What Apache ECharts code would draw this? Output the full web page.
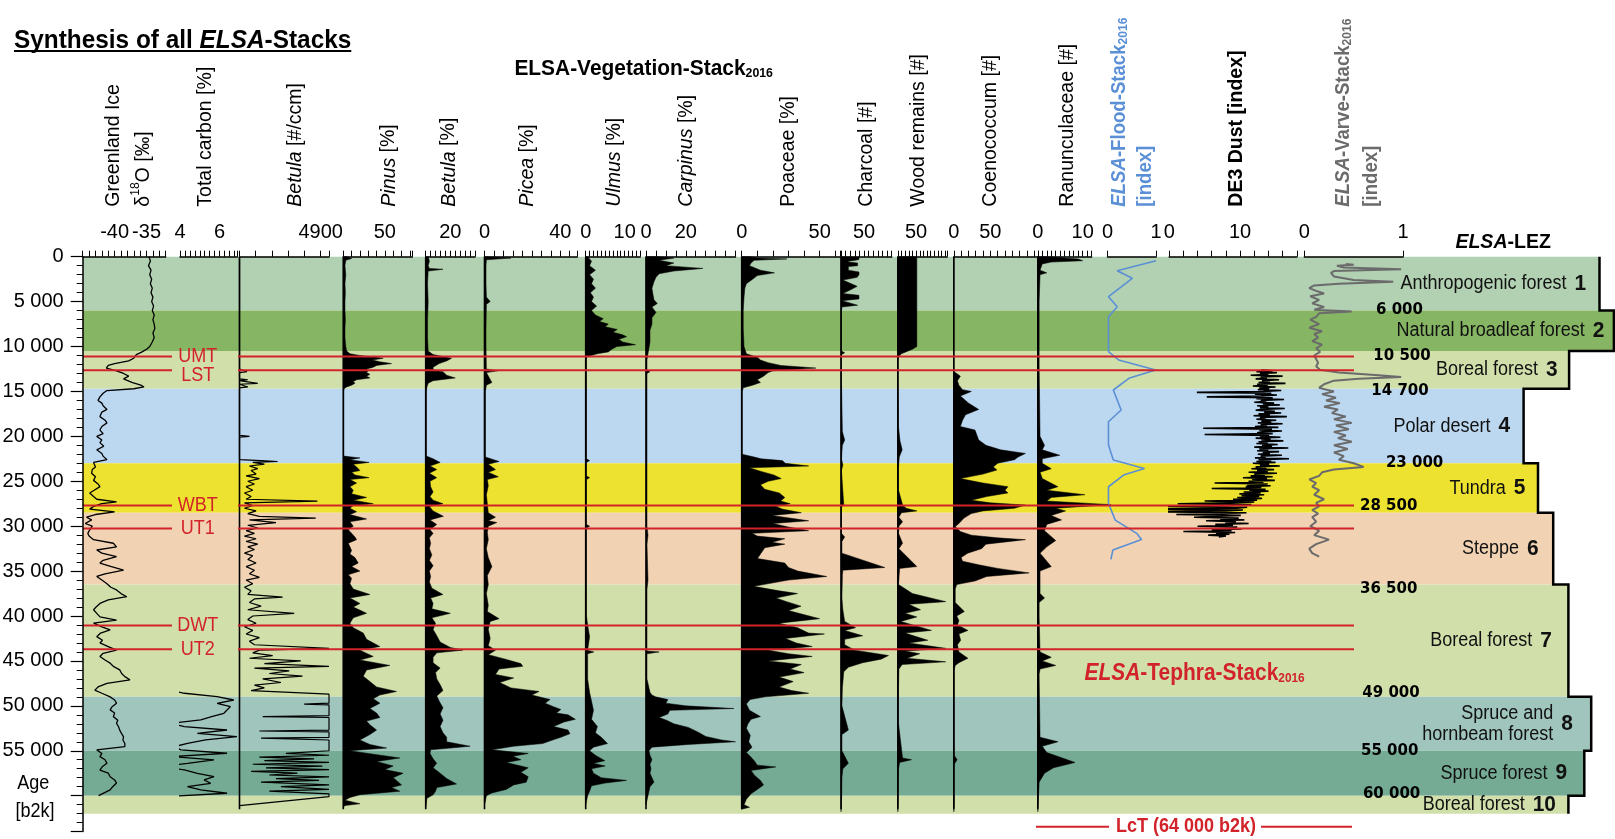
<!DOCTYPE html>
<html><head><meta charset="utf-8">
<script src="https://cdn.jsdelivr.net/npm/echarts@6/dist/echarts.min.js"></script>
<style>html,body{margin:0;padding:0;background:#fff}#c{width:1615px;height:839px}</style>
</head><body><div id="c"></div>
<script>
// ================= DATA (age [yr b2k], value) =================
const d18O = [[0,-34.6],[500,-34.4],[1000,-34.7],[1500,-34.3],[2000,-34.5],[2500,-34.2],[3000,-34.4],[3500,-34.1],[4000,-34.3],[4500,-34.0],[5000,-34.2],[5500,-33.9],[6000,-34.1],[6500,-33.8],[7000,-34.0],[7500,-33.8],[8000,-33.7],[8500,-34.0],[9000,-33.8],[9500,-34.1],[10000,-34.5],[10300,-35.0],[10600,-35.7],[10900,-36.6],[11300,-37.0],[11600,-37.8],[11900,-40.0],[12100,-41.0],[12400,-41.3],[12700,-39.7],[13000,-38.6],[13300,-37.8],[13600,-38.6],[14000,-37.3],[14300,-35.9],[14500,-35.4],[14700,-37.0],[14900,-41.2],[15200,-41.8],[15600,-42.3],[16000,-42.6],[16300,-42.0],[16600,-41.8],[17000,-41.2],[17300,-42.0],[17800,-42.3],[18200,-41.5],[18500,-41.2],[18900,-42.0],[19300,-42.3],[19700,-41.8],[20000,-42.8],[20400,-42.0],[20700,-42.3],[21100,-41.7],[21500,-42.8],[21900,-42.0],[22200,-41.8],[22600,-41.2],[22900,-43.3],[23400,-43.0],[23700,-43.5],[24100,-43.6],[24500,-43.0],[24900,-43.3],[25300,-42.6],[25600,-42.3],[26000,-43.2],[26300,-43.9],[26700,-43.3],[27000,-42.8],[27300,-39.7],[27500,-42.0],[27800,-43.3],[28100,-43.9],[28400,-40.0],[28700,-43.0],[29000,-44.4],[29300,-43.6],[29700,-44.6],[30000,-43.5],[30400,-43.9],[30800,-44.2],[31100,-44.0],[31500,-43.3],[31900,-40.2],[32300,-39.7],[32650,-42.8],[33000,-42.0],[33400,-39.7],[33800,-41.8],[34100,-42.3],[34500,-40.5],[34900,-38.6],[35300,-41.5],[35600,-42.8],[36000,-42.0],[36400,-41.2],[36800,-40.6],[37100,-39.7],[37500,-39.0],[37850,-38.1],[38200,-41.0],[38600,-42.3],[39000,-42.9],[39300,-43.3],[39700,-42.8],[40100,-42.3],[40450,-39.7],[40800,-43.3],[41200,-42.0],[41550,-40.7],[41900,-42.2],[42300,-42.8],[42700,-41.9],[43000,-42.3],[43400,-41.0],[43800,-39.7],[44150,-41.8],[44500,-42.3],[44900,-41.5],[45250,-40.7],[45600,-40.2],[46000,-39.2],[46400,-38.9],[46750,-38.4],[47100,-37.6],[47500,-41.2],[47900,-42.6],[48250,-43.1],[48600,-42.0],[49000,-40.7],[49350,-40.0],[49700,-39.7],[50100,-40.4],[50450,-40.7],[50800,-40.0],[51200,-40.2],[51600,-39.5],[51950,-39.7],[52300,-39.4],[52700,-39.2],[53100,-38.9],[53450,-38.6],[53800,-38.7],[54200,-38.4],[54550,-38.4],[54900,-42.8],[55300,-42.0],[55650,-42.3],[56000,-41.5],[56400,-41.2],[56750,-41.9],[57150,-42.3],[57500,-41.0],[57900,-40.7],[58250,-40.0],[58600,-39.7],[59000,-40.3],[59350,-40.7],[59750,-41.8],[60000,-42.5]];

const totalCarbonA = [[12800,2.05],[12980,2.22],[13350,2.38],[13720,2.22],[14050,2.4],[14350,2.63],[14840,2.22],[15200,2.05],[15580,2.38],[16000,2.3],[16320,2.22],[16690,2.05],[17060,2.38],[17500,2.3],[17800,2.38],[18300,2.28],[18920,2.3],[19470,2.38]];
const totalCarbonB = [[22810,2.38],[23300,2.3],[23740,2.22],[24100,2.3],[24480,2.22],[25000,2.28],[25600,2.22],[26200,2.3],[26710,2.22],[27260,2.63],[27450,2.22],[27800,2.3],[28190,2.22],[28560,2.9],[28930,2.22],[29300,2.3],[29680,2.22],[30100,2.3],[30420,2.38],[30800,2.3],[31160,2.22],[31540,2.38],[32100,2.3],[32650,2.22],[33200,2.3],[33760,2.38],[34300,2.3],[34880,2.38],[35400,2.45],[35990,2.55],[36550,2.6],[37100,2.72],[37850,2.72],[38220,2.38],[38800,2.45],[39330,2.38],[39700,2.5],[40070,2.55],[40810,2.38],[41550,2.55],[42300,2.38],[43040,2.22],[43780,2.55],[44520,2.55],[45270,2.72],[45700,2.9],[46010,3.22],[46560,3.38],[46750,3.72],[47120,3.88],[47490,3.05],[48230,3.38],[48600,4.22],[48980,5.88],[49350,6.72],[49720,5.88],[50090,6.55],[50460,6.38],[50830,6.22],[51200,5.6],[51570,5.05],[51940,3.55],[52320,4.22],[52690,6.38],[53060,4.88],[53430,6.88],[53800,5.3],[54170,4.38],[54540,3.72],[54910,4.05],[55280,6.38],[55650,3.55],[56020,5.72],[56400,4.38],[56770,3.05],[57140,4.22],[57510,4.88],[57880,5.72],[58250,5.22],[58620,5.55],[58990,4.38],[59360,5.05],[59730,6.38],[60100,3.22],[60480,2.9],[60850,3.05],[61220,2.22]];

const betulaConc = [[0,0],[12500,0],[12800,450],[12900,0],[13600,0],[13700,500],[13800,0],[14100,1100],[14200,0],[14500,500],[14600,0],[19900,0],[20000,600],[20100,0],[22600,0],[22700,1300],[22800,2300],[22900,800],[23100,1500],[23300,600],[23600,1100],[23800,700],[24200,1000],[24400,400],[24700,1200],[25000,500],[25300,900],[25600,400],[26000,800],[26300,300],[26700,700],[27000,400],[27200,4700],[27400,300],[27700,800],[28000,300],[28300,1000],[28600,500],[28900,1200],[29100,4600],[29300,600],[29600,2200],[29900,500],[30200,1100],[30500,400],[30800,900],[31100,300],[31400,1000],[31700,400],[32000,1100],[32300,500],[32600,900],[33000,300],[33300,800],[33700,500],[34100,1000],[34500,400],[34900,900],[35300,600],[35700,1200],[36000,400],[36400,800],[36800,300],[37200,700],[37600,500],[37900,2600],[38100,900],[38500,600],[38900,1300],[39300,500],[39700,3300],[40000,800],[40400,500],[40800,1000],[41200,300],[41600,800],[42000,400],[42400,1200],[42800,600],[43200,900],[43600,5400],[43800,1200],[44100,800],[44400,2000],[44700,600],[45000,3700],[45300,1500],[45600,5400],[45800,900],[46100,3000],[46400,1800],[46700,3800],[47000,1400],[47400,2500],[47700,900],[48000,1500],[48300,700],[48700,5400],[49700,5400],[49800,3900],[49900,5400],[51100,5400],[51200,1400],[51300,5400],[52700,5400],[52800,1200],[52900,5400],[53500,5400],[53600,1300],[53800,5400],[55000,5400],[55300,2800],[55500,5400],[55700,1200],[55900,4500],[56100,1500],[56300,5400],[56500,800],[56700,5000],[56900,1600],[57100,5400],[57300,700],[57500,3500],[57700,1800],[57900,5400],[58100,2200],[58300,4800],[58500,1300],[58800,5400],[59000,2500],[59300,5400],[59500,1800],[59800,5400],[60100,5400],[61100,0]];

const pinus = [[0,4],[200,10],[400,3],[1000,2],[2000,3],[3000,2],[4000,2.5],[5000,2],[6000,2],[7000,2.5],[8000,2],[9000,2],[10000,3],[10500,4],[10800,8],[11000,20],[11200,40],[11300,48],[11500,35],[11700,44],[11900,58],[12100,40],[12300,36],[12500,28],[12700,30],[12900,28],[13100,32],[13300,28],[13500,32],[13700,16],[13900,12],[14100,14],[14300,10],[14500,4],[14700,1],[15000,0.5],[22200,0.5],[22400,20],[22600,8],[22900,31],[23100,12],[23400,16],[23800,20],[24000,10],[24300,14],[24600,31],[24800,8],[25200,16],[25600,8],[26000,12],[26400,10],[26800,28],[27100,12],[27500,36],[27700,12],[28000,8],[28400,16],[28700,8],[29200,28],[29500,8],[30000,12],[30400,6],[30800,10],[31200,14],[31500,16],[31900,6],[32300,8],[32700,10],[33100,8],[33500,14],[34100,18],[34500,10],[35000,20],[35400,6],[35800,10],[36400,8],[37000,12],[37600,32],[38000,8],[38600,20],[39000,12],[39700,28],[40200,12],[40800,8],[41300,12],[41900,24],[42600,28],[43400,44],[43800,20],[44500,36],[44900,20],[45500,56],[46000,28],[46700,24],[47300,32],[47900,40],[48400,64],[48800,44],[49200,36],[49700,44],[50300,32],[50800,40],[51300,44],[51700,28],[52100,32],[52700,40],[53200,32],[53800,20],[54300,32],[54700,52],[55000,8],[55300,30],[55800,68],[56200,40],[56700,60],[57100,50],[57500,72],[58000,60],[58300,64],[58800,70],[59100,58],[59500,68],[59900,20],[60200,8],[60500,2],[60900,20],[61100,2],[61300,0]];

const betulaPct = [[0,2],[500,3],[1000,2],[1300,3],[1400,14],[1600,2],[3000,1.5],[5000,2],[7000,1.5],[9000,1.5],[10500,2],[10900,6],[11300,21],[11600,17],[11900,11],[12300,6],[12600,6],[12800,14],[13200,17],[13500,24],[13800,6],[14100,2],[14500,1],[15000,0.5],[22200,0.5],[22500,6],[22900,11.7],[23300,3.5],[23700,8.9],[24100,3],[24600,8.9],[25000,3.5],[25600,4],[26200,6],[26700,3.5],[27100,6],[27500,14],[27800,3],[28300,6],[28900,14.4],[29300,3.5],[29800,8.9],[30400,3.5],[30800,6],[31300,3],[31900,4],[32500,3],[33200,5],[33800,3],[34400,6],[35000,3],[35600,4],[36200,3],[36900,5],[37600,14],[38000,4],[38600,6],[39200,5],[39700,20],[40200,5],[40800,8],[41500,6],[42200,9],[42900,11.7],[43500,20],[43800,30],[44100,9],[44600,6],[45200,6],[45800,11.7],[46300,8],[47000,9],[47700,12],[48300,14],[48900,9],[49500,11],[50200,14],[50900,11.7],[51600,14],[52300,11.7],[53000,14],[53500,17],[54000,17],[54500,36],[54900,4],[55300,3.5],[55900,6],[56400,8.9],[56900,6],[57500,11.7],[58100,17],[58700,25],[59100,9],[59500,8],[59900,6],[60300,1],[61300,0]];

const picea = [[0,1],[150,14],[350,1],[1000,0.8],[3000,0.8],[4500,1],[5000,3],[5300,1],[8000,0.8],[10000,0.8],[12500,1],[12700,7],[12900,1],[14000,3.9],[14300,1],[15000,0.5],[22300,0.5],[22800,7.7],[23100,2],[23700,5.8],[24000,2],[24500,7.3],[24800,1.5],[25500,2],[26500,1],[27500,1.5],[28500,2],[29000,5.8],[29400,2],[29600,6.5],[30000,2],[30700,1.5],[31500,2],[32500,1],[33500,2],[34500,3.9],[35500,1.5],[36500,2],[37500,1],[38800,2],[39500,1.5],[40300,7.7],[40600,3],[41500,2],[42500,3],[43300,2],[43800,5.8],[44300,2],[44800,11],[45300,19.2],[45600,20.2],[45900,7.7],[46500,5.8],[46900,15.4],[47400,8],[48000,14],[48400,28.8],[48800,25],[49300,34.6],[49700,32],[50100,36.5],[50400,40.3],[50800,38],[51000,44.1],[51500,48],[51800,42],[52300,36.5],[52700,44.1],[53100,45.1],[53500,40.3],[53800,36],[54200,30.7],[54500,15.4],[54900,3.9],[55300,23.1],[55600,15],[56000,19.2],[56300,11.5],[56900,23.1],[57400,19.2],[57900,23.1],[58500,22],[58800,15.4],[59300,11.5],[59700,3.9],[60000,1],[60600,0.5],[61000,0]];

const ulmus = [[0,0.5],[500,1.5],[1000,1],[1500,2.5],[2000,1],[2500,2],[3000,1.5],[3500,2.5],[4000,1.2],[4500,2],[5000,1.5],[5500,2.8],[6000,1.5],[6500,2.5],[6900,4.5],[7200,3.5],[7500,5.8],[7800,5],[8100,8.1],[8400,7],[8700,9.5],[8900,10.5],[9200,8.5],[9500,9.5],[9800,12.8],[10000,8],[10300,6.7],[10600,5.8],[10800,3],[11100,0.5],[11300,0.2],[22500,0.2],[22700,1],[22900,0.2],[24400,0.2],[24600,1],[24800,0.2],[29800,0.2],[30000,1],[30200,0.2],[40000,0.2],[41000,0.5],[42300,1],[43800,0.5],[44000,2.1],[44200,0.5],[47000,0.5],[48500,1],[49500,1.5],[50500,2],[51500,1.5],[52300,3],[53000,2.5],[53500,4],[54200,5.6],[54600,2],[55000,1],[55500,2.5],[56100,4.9],[56400,2],[56700,5],[57000,1.5],[57500,2],[58000,4],[58300,10.5],[58600,5],[58900,1.5],[59500,1],[60000,0.5],[61000,0]];

const carpinus = [[0,6],[150,14],[400,6.6],[700,14],[1000,10],[1300,28.6],[1600,14],[1900,6.6],[2300,5],[2800,4],[3500,3],[4200,3.5],[4800,4],[5200,5.7],[5600,3],[6200,5],[6800,3],[7500,3],[8200,2],[9500,2],[10800,1],[11500,0.5],[12600,0.5],[12800,2],[13000,0.5],[30000,0.5],[31000,1],[32000,0.5],[36000,1],[37000,0.5],[43900,0.5],[44000,6.6],[44200,0.5],[47000,0.5],[48500,2],[48800,3],[49000,4.8],[49300,11],[49700,10],[50000,20],[50300,44.2],[50500,12],[50900,11],[51300,6.6],[51600,10.3],[52000,14],[52400,21.3],[52900,26],[53400,30],[53800,38],[54000,45],[54300,21.3],[54600,3],[55000,1.5],[55500,2],[56000,3],[56500,2],[57000,2.5],[57500,2],[58500,4],[59000,2],[60000,1],[61000,0]];

const poaceae = [[0,5],[150,10],[250,29],[400,8],[700,6],[1000,5],[1500,12],[1800,21],[2100,10],[2500,7],[3000,3],[3500,2],[4500,1.5],[6000,1],[8000,1],[10000,1.5],[10800,3],[11200,10],[11500,12],[11800,17],[12100,25],[12400,47.5],[12700,20],[12900,17],[13300,14],[13700,10],[14000,12],[14300,7],[14600,1],[15000,0.3],[22000,0.3],[22300,8],[22500,12.4],[22700,26],[23000,28],[23300,42.9],[23500,5],[23900,12.4],[24300,20.6],[24700,25.3],[25000,17],[25400,12],[25900,14.8],[26300,24.1],[26800,27.6],[27200,25],[27500,31.1],[27800,22],[28100,26],[28500,38.2],[28800,19.4],[29200,35],[29400,42.9],[29700,20],[30100,30],[30500,42.9],[30800,6.6],[31100,10],[31400,27.6],[31800,19.4],[32000,27.6],[32400,14.8],[33000,12.4],[33600,10.1],[34100,27.6],[34600,30],[35000,36],[35600,54.5],[36000,30],[36700,7.7],[37200,24],[37500,35.8],[38000,22],[38400,28.8],[38900,38],[39400,30],[40300,49.9],[40800,24],[41300,35.8],[41900,42.9],[42000,53],[42500,28],[43000,35],[43400,45.2],[43800,17],[44200,30],[44500,45.2],[45000,17],[45400,38.2],[45900,31],[46300,40],[46800,24],[47300,33],[47900,24],[48300,32],[48600,42.9],[49000,15],[49300,5.4],[49800,3],[50500,5],[51200,12],[51500,6],[52000,4],[52500,3],[53300,5.5],[54000,4.5],[54600,6.6],[55200,3],[55600,5.4],[56100,8],[56600,10],[56800,21.8],[57200,6],[57700,8],[58300,12],[58800,14],[59300,10],[59800,6],[60400,3],[61000,1.5],[61300,5],[61500,0]];

const charcoal = [[0,2],[50,39],[300,39],[400,31],[500,16],[600,16],[700,36],[1000,36],[1100,16],[1500,16],[1700,39],[2000,39],[2300,35],[2600,4],[3300,35],[3700,20],[4100,4],[4300,39],[4700,39],[4900,2],[5400,36],[5600,2],[6000,1],[10500,1],[10700,8],[10900,1],[14000,1],[19500,3],[20400,8],[21000,3],[22500,1],[23200,4],[23800,1],[27600,6],[27900,1],[30800,1],[31200,8],[31700,2],[33000,2],[34600,95],[34900,4],[35500,3],[38000,2],[39300,4],[40600,8],[41300,31.5],[41600,8],[42200,47],[42600,8],[43200,8],[43800,30],[44400,103],[44800,87],[45200,47],[45700,16],[46200,6],[48000,3],[50000,2],[52700,16],[53200,2],[55000,2],[56400,16],[57000,4],[58000,2],[61000,1],[61800,0]];

const woodRemains = [[0,52],[10000,52],[10300,40],[10800,10],[11100,2],[11500,1],[14000,1],[19000,2],[20500,6],[21500,12],[22300,4],[23500,2],[26000,2],[27600,13],[28000,23],[28300,52],[28500,10],[29000,3],[29500,13],[30000,3],[30800,2],[31900,13],[32500,3],[34500,52],[34700,5],[36500,2],[37500,40],[38400,131],[38700,30],[39300,62],[39700,20],[40100,52],[40600,8],[41600,92],[41900,20],[42700,82],[43000,30],[43600,131],[43900,20],[44200,60],[44700,25],[45100,131],[45400,12],[45900,3],[48000,2],[52000,2],[55800,13],[56000,37.5],[56300,5],[57000,2],[61000,1],[61800,0]];

const coenococcum = [[0,0],[12800,0],[13000,4],[13300,9],[13800,5],[14300,7],[14800,12],[15000,24],[15500,9],[16300,20],[17000,34],[17600,16],[18200,12],[18900,9],[19300,29],[20400,34],[21000,44],[21500,64],[21900,98],[22300,88],[22600,83],[23000,60],[23400,54],[23750,59],[24200,40],[24700,9],[25200,40],[25600,74],[26000,70],[26300,74],[26700,45],[27100,24],[27400,50],[27650,98],[28000,83],[28300,40],[28600,24],[29100,14],[29700,7],[30050,2],[30600,9],[31000,24],[31300,60],[31500,98],[32000,44],[32500,38],[33000,19],[33500,10],[33900,12],[34300,34],[34700,60],[35200,103],[35600,45],[36100,29],[36500,4],[37000,2],[38500,2],[39500,14.4],[40000,4],[40500,7],[41000,5],[41600,19.3],[42000,7],[42700,9.4],[43200,5],[44000,7],[44700,19.3],[45200,7],[45500,2],[46000,0.5],[55500,0.5],[56000,4.5],[56500,0.5],[61000,0.5],[61800,0]];

const ranunculaceae = [[0,2],[250,9],[450,10],[600,3],[800,1],[1500,0.5],[1800,2],[2000,0.5],[5000,0.3],[12000,0.3],[20000,0.5],[21000,1.5],[21500,1],[22100,4.9],[22500,1],[23000,1],[23600,3],[24000,0.5],[24700,1],[25600,4.5],[26000,2],[26500,10.5],[26800,3],[27200,2],[27600,16.3],[28000,4],[28300,6.2],[28800,3],[29300,5.3],[29800,2],[30500,1.5],[31600,4],[32300,2],[33000,0.5],[34500,3],[35000,0.5],[37500,0.5],[38000,1.5],[38500,0.3],[40000,0.3],[44000,0.5],[44600,3],[45000,1],[45500,4],[45900,0.5],[46500,0.3],[53500,0.5],[54000,4.5],[54500,1],[55200,2],[56300,8.3],[56900,3.5],[57500,1.5],[58500,0.3],[61800,0]];

const floodStack = [[440,1.0],[1560,0.2],[2400,0.51],[4450,0.02],[5570,0.2],[6680,0.02],[10580,0.02],[11500,0.23],[12620,0.99],[13540,0.44],[14840,0.12],[17070,0.28],[18370,0.02],[20970,0.02],[22640,0.12],[23570,0.76],[24310,0.33],[25610,0.02],[27460,0.02],[29320,0.16],[30800,0.6],[31470,0.7],[32660,0.11],[33700,0.07]];

const dustDE3 = [[12600,13.0],[12700,14.6],[12800,12.3],[12900,15.2],[13000,12.8],[13100,14.0],[13200,11.5],[13300,16.0],[13400,12.9],[13500,13.8],[13600,12.2],[13700,15.5],[13800,13.1],[13900,14.2],[14000,12.6],[14100,16.4],[14200,12.4],[14300,13.9],[14400,11.8],[14500,15.0],[14600,12.7],[14700,14.1],
[14800,12.5],[14900,15.8],[15000,13.3],[15100,3.9],[15200,14.4],[15300,12.1],[15400,15.2],[15500,13.0],[15600,5.3],[15700,14.6],[15800,12.3],[15900,16.2],[16000,12.9],[16100,13.7],[16200,12.0],[16300,14.8],[16400,13.2],[16500,15.6],[16600,12.4],[16700,14.0],[16800,12.8],[16900,16.3],[17000,13.0],
[17100,12.2],[17200,14.9],[17300,13.4],[17400,15.8],[17500,12.6],[17600,14.2],[17700,11.9],[17800,16.6],[17900,12.8],[18000,13.6],[18100,12.3],[18200,15.1],[18300,13.0],[18400,14.4],[18500,12.5],[18600,16.0],[18700,12.9],[18800,13.8],[18900,12.1],[19000,15.4],[19100,4.8],[19200,14.5],[19300,12.7],[19400,15.9],[19500,13.1],
[19600,12.4],[19700,14.6],[19800,5.0],[19900,14.1],[20000,12.8],[20100,15.7],[20200,12.2],[20300,14.3],[20400,13.0],[20500,16.1],[20600,12.6],[20700,13.9],[20800,12.3],[20900,15.3],[21000,13.1],[21100,14.5],[21200,12.0],[21300,16.8],[21400,12.7],[21500,14.0],[21600,12.4],[21700,15.5],[21800,13.2],[21900,14.2],[22000,12.5],
[22100,15.9],[22200,12.9],[22300,13.6],[22400,12.1],[22500,16.9],[22600,12.6],[22700,14.4],[22800,12.3],[22900,15.0],[23000,11.8],[23100,14.1],[23200,12.8],[23300,15.6],[23400,12.2],[23500,13.7],[23600,11.6],[23700,14.8],[23800,12.4],[23900,13.9],[24000,11.2],[24100,15.2],[24200,12.0],[24300,13.5],[24400,11.5],[24500,14.6],
[24600,10.4],[24700,13.8],[24800,11.7],[24900,14.9],[25000,11.2],[25100,13.3],[25200,6.4],[25300,13.9],[25400,11.0],[25500,14.3],[25600,10.8],[25700,13.0],[25800,6.0],[25900,13.6],[26000,11.3],[26100,14.0],[26200,10.5],[26300,12.9],[26400,9.9],[26500,13.4],
[26600,10.2],[26700,12.7],[26800,9.6],[26900,13.1],[27000,9.0],[27100,12.4],[27200,5.0],[27300,12.0],[27400,8.8],[27500,1.2],[27600,11.6],[27700,8.2],[27800,-1.5],[27900,11.0],[28000,9.5],[28100,-3.8],[28200,10.4],[28300,8.0],[28400,-2.2],[28500,10.9],
[28600,7.5],[28700,1.0],[28800,10.1],[28900,6.8],[29000,3.5],[29100,9.8],[29200,7.2],[29300,10.6],[29400,5.2],[29500,9.4],[29600,7.9],[29700,11.2],[29800,6.5],[29900,9.0],[30000,4.0],[30100,9.6],[30200,7.4],[30300,10.2],[30400,6.0],[30500,8.8],[30600,2.0],[30700,9.3],[30800,6.6],[30900,8.5],[31000,5.5],[31100,8.0],[31200,7.0]];

const varveStack = [[800,0.42],[900,0.5],[1000,0.33],[1200,0.4],[1400,0.98],[1600,0.3],[1800,0.27],[2200,0.3],[2600,0.5],[2800,0.9],[3000,0.35],[3200,0.1],[3500,0.05],[3800,0.12],[4100,0.2],[4400,0.06],[4800,0.15],[5200,0.08],[5600,0.2],[5900,0.1],[6100,0.48],[6300,0.15],[6700,0.12],[7000,0.06],[7500,0.15],[7900,0.05],[8300,0.18],[8600,0.1],[9000,0.14],[9400,0.08],[9800,0.18],[10200,0.12],[10600,0.16],[11000,0.1],[11400,0.12],[11800,0.14],[12200,0.12],[12600,0.16],[12900,0.35],[13200,0.75],[13400,0.98],[13600,0.55],[13800,0.3],[14200,0.2],[14600,0.15],[15000,0.3],[15300,0.18],[15700,0.32],[16000,0.22],[16300,0.36],[16700,0.2],[17000,0.34],[17400,0.28],[17800,0.42],[18100,0.3],[18500,0.48],[18800,0.32],[19200,0.45],[19500,0.3],[19900,0.42],[20200,0.34],[20600,0.48],[21000,0.3],[21400,0.44],[21800,0.3],[22200,0.4],[22600,0.35],[23000,0.5],[23400,0.6],[23700,0.3],[24000,0.18],[24400,0.15],[24800,0.05],[25200,0.12],[25600,0.08],[26000,0.15],[26500,0.1],[27000,0.2],[27400,0.12],[27800,0.15],[28200,0.08],[28600,0.14],[29000,0.08],[29500,0.12],[30000,0.06],[30500,0.15],[31000,0.1],[31500,0.25],[32000,0.12],[32500,0.05],[33000,0.08],[33400,0.15]];

// Tick labels shown on each panel's top axis
const ticksD18O = [-40, -35];
const ticksTC = [4, 6];
const ticksBetulaConc = [4900];
const ticksPinus = [50];
const ticksBetulaPct = [20];
const ticksPicea = [0, 40];
const ticksUlmus = [0, 10];
const ticksCarpinus = [0, 20];
const ticksPoaceae = [0, 50];
const ticksCharcoal = [50];
const ticksWood = [50];
const ticksCoeno = [0, 50];
const ticksRanunc = [0, 10];
const ticksFlood = [0, 1];
const ticksDust = [0, 10];
const ticksVarve = [0, 1];

// Landscape evolution zones (ELSA-LEZ)
const zoneBounds = [0, 6000, 10500, 14700, 23000, 28500, 36500, 49000, 55000, 60000, 62000];
const zoneNames = ['Anthropogenic forest', 'Natural broadleaf forest', 'Boreal forest', 'Polar desert', 'Tundra', 'Steppe', 'Boreal forest', 'Spruce and\nhornbeam forest', 'Spruce forest', 'Boreal forest'];
const zoneNumbers = ['1', '2', '3', '4', '5', '6', '7', '8', '9', '10'];

// Tephra layers
const tephraNames = ['UMT', 'LST', 'WBT', 'UT1', 'DWT', 'UT2'];
const tephraAges = [11100, 12650, 27700, 30250, 41050, 43700];

const RECORD_END = 61500;
const AGE_MAX = 64000;

// ================= LAYOUT / STYLE =================
const FN = "'Liberation Sans Narrow','Arial Narrow','Liberation Sans',Arial,sans-serif";
const RED = '#d2232a', BLUE = '#5b8fd6', GRAY = '#6b6b6b';
const TOP = 256.7, H = 574.9;

const panels = [
  {left: 82.7, width: 83, min: -45, max: -32, interval: 1, labels: ticksD18O},
  {left: 180, width: 57.3, min: 4, max: 6.9, interval: 0.25, labels: ticksTC},
  {left: 239.5, width: 89.5, min: 0, max: 5400, interval: 980, labels: ticksBetulaConc},
  {left: 343.3, width: 69, min: 0, max: 83, interval: 10, labels: ticksPinus},
  {left: 425.7, width: 49.3, min: 0, max: 40, interval: 4, labels: ticksBetulaPct},
  {left: 484.5, width: 92.8, min: 0, max: 49, interval: 5, labels: ticksPicea},
  {left: 585.7, width: 54.5, min: 0, max: 14, interval: 1, labels: ticksUlmus},
  {left: 646, width: 89.5, min: 0, max: 45, interval: 5, labels: ticksCarpinus},
  {left: 741.7, width: 98.3, min: 0, max: 63, interval: 10, labels: ticksPoaceae},
  {left: 841, width: 50.7, min: 0, max: 110, interval: 10, labels: ticksCharcoal},
  {left: 897.8, width: 49.4, min: 0, max: 135, interval: 10, labels: ticksWood},
  {left: 953.8, width: 84.1, min: 0, max: 115, interval: 10, labels: ticksCoeno},
  {left: 1037.8, width: 53.8, min: 0, max: 12, interval: 1, labels: ticksRanunc},
  {left: 1107.5, width: 48.6, min: 0, max: 1, interval: 1, labels: ticksFlood},
  {left: 1169.2, width: 127.6, min: 0, max: 18, interval: 2, labels: ticksDust},
  {left: 1304.3, width: 98.8, min: 0, max: 1, interval: 1, labels: ticksVarve}
];
const BG = panels.length; // background grid index

const zoneColors = ['#b1d1b2', '#86b563', '#d1dfab', '#bcd7f0', '#ede22f', '#f1d3b3', '#d1dfab', '#a0c5bd', '#75aa94', '#d1dfab'];
const zoneRight = [1599.5, 1613.9, 1569.1, 1523.6, 1538, 1553.2, 1568.4, 1591.2, 1584.3, 1568.4];
const zoneNameEnd = [1566.5, 1584.7, 1538, 1490.6, 1505.8, 1519, 1532.3, 1553.2, 1547.5, 1524.7];
const boundLabelX = [1399.5, 1402, 1400, 1414.6, 1388.7, 1388.7, 1391, 1389.7, 1391.6];
const boundLabelDy = [0, 5, 2, 0, -7, 5, -4, 0, -2];
const tephraLayout = {x0: 83, gap0: 172, gap1: 238, x1: 1354, labelX: 197.7, dy: [0, 5, 0, 0, 0, 0]};
const NARROW = 0.9;  // horizontal condensing of label text (narrow face emulation)

const fmtAge = v => String(v).replace(/\B(?=(\d{3})+(?!\d))/g, ' ');

function profileSeries(idx, pts) {
  const data = pts.map(p => [p[1], p[0]]);
  return {
    type: 'custom', xAxisIndex: idx, yAxisIndex: idx, z: 3, clip: false, silent: true, data: data,
    renderItem: function (params, api) {
      if (params.dataIndex !== 0) return null;
      const poly = [api.coord([0, data[0][1]])];
      data.forEach(d => poly.push(api.coord(d)));
      poly.push(api.coord([0, data[data.length - 1][1]]));
      const b0 = api.coord([0, 0]), b1 = api.coord([0, RECORD_END]);
      return {type: 'group', children: [
        {type: 'polygon', shape: {points: poly}, style: {fill: '#000', stroke: '#000', lineWidth: 0.5}},
        {type: 'line', shape: {x1: b0[0], y1: b0[1], x2: b1[0], y2: b1[1]}, style: {stroke: '#000', lineWidth: 1.6, fill: 'none'}}
      ]};
    }
  };
}
function lineSeries(idx, pts, color, width) {
  return {type: 'line', xAxisIndex: idx, yAxisIndex: idx, data: pts.map(p => [p[1], p[0]]),
    symbol: 'none', showSymbol: false, clip: false, z: 3, silent: true,
    lineStyle: {color: color, width: width}};
}

const grids = panels.map(p => ({left: p.left, width: p.width, top: TOP, height: H, containLabel: false, outerBoundsMode: 'none'}));
grids.push({left: 82.7, right: 0, top: TOP, height: H, containLabel: false, outerBoundsMode: 'none'});

const xAxes = panels.map((p, i) => ({
  gridIndex: i, type: 'value', position: 'top', min: p.min, max: p.max, interval: p.interval, z: 10,
  axisLine: {show: true, onZero: false, lineStyle: {color: '#000', width: 1.5}},
  axisTick: {show: true, inside: false, length: 6, lineStyle: {color: '#000', width: 1}},
  splitLine: {show: false},
  axisLabel: {show: true, margin: 14, fontSize: 20, fontFamily: FN, color: '#000',
    formatter: v => p.labels.some(l => Math.abs(l - v) < 1e-6) ? String(Math.round(v * 100) / 100) : ''}
}));
xAxes.push({gridIndex: BG, type: 'value', min: 0, max: 1, show: false});

const yAxes = [];
for (let i = 0; i <= BG; i++) {
  if (i === 0) {
    yAxes.push({gridIndex: 0, type: 'value', inverse: true, min: 0, max: AGE_MAX, interval: 5000, position: 'left', z: 10,
      axisLine: {show: true, onZero: false, lineStyle: {color: '#000', width: 1.5}},
      axisTick: {show: true, inside: false, length: 12, lineStyle: {color: '#000', width: 1.2}},
      minorTick: {show: true, splitNumber: 5, length: 6, lineStyle: {color: '#000', width: 1}},
      splitLine: {show: false}, minorSplitLine: {show: false},
      axisLabel: {margin: 19, fontSize: 20, fontFamily: FN, color: '#000',
        formatter: v => (v === 0 ? '0' : (v % 5000 === 0 && v <= 55000 ? fmtAge(v) : ''))}});
  } else {
    yAxes.push({gridIndex: i, type: 'value', inverse: true, min: 0, max: AGE_MAX, show: false});
  }
}

const zoneSeries = {
  type: 'custom', xAxisIndex: BG, yAxisIndex: BG, z: 1, silent: true, clip: false, data: [[0, 0]],
  renderItem: function (params, api) {
    const cs = params.coordSys;
    const yOf = a => api.coord([0, a])[1];
    const ch = [];
    for (let i = 0; i < zoneNames.length; i++) {
      const y0 = yOf(zoneBounds[i]), y1 = yOf(zoneBounds[i + 1]);
      ch.push({type: 'rect', shape: {x: cs.x, y: y0, width: zoneRight[i] - cs.x, height: y1 - y0}, style: {fill: zoneColors[i]}});
    }
    const pts = [];
    for (let i = 0; i < zoneNames.length; i++) {
      pts.push([zoneRight[i], yOf(zoneBounds[i])]);
      pts.push([zoneRight[i], yOf(zoneBounds[i + 1])]);
    }
    ch.push({type: 'polyline', shape: {points: pts}, style: {stroke: '#000', lineWidth: 2.5, fill: 'none'}});
    return {type: 'group', children: ch};
  }
};

const zoneLabelSeries = {
  type: 'custom', xAxisIndex: BG, yAxisIndex: BG, z: 6, silent: true, clip: false, data: [[0, 0]],
  renderItem: function (params, api) {
    const yOf = a => api.coord([0, a])[1];
    const ch = [];
    for (let i = 0; i < zoneNames.length; i++) {
      const ym = yOf((zoneBounds[i] + zoneBounds[i + 1]) / 2);
      ch.push({type: 'text', x: zoneNameEnd[i], y: ym, scaleX: NARROW, style: {text: zoneNames[i], fill: '#111', fontSize: 20, fontFamily: FN, lineHeight: 21,
        align: 'right', verticalAlign: 'middle', textAlign: 'right', textVerticalAlign: 'middle'}});
      ch.push({type: 'text', x: zoneNameEnd[i] + 8, y: ym, scaleX: 0.95, style: {text: zoneNumbers[i], fill: '#111', fontSize: 22, fontWeight: 'bold', fontFamily: FN,
        align: 'left', verticalAlign: 'middle', textAlign: 'left', textVerticalAlign: 'middle'}});
    }
    for (let j = 1; j < zoneBounds.length - 1; j++) {
      ch.push({type: 'text', x: boundLabelX[j - 1], y: yOf(zoneBounds[j]) + boundLabelDy[j - 1], style: {text: fmtAge(zoneBounds[j]), fill: '#000',
        fontSize: 15, fontWeight: 'bold', fontFamily: "'DejaVu Sans',sans-serif",
        align: 'center', verticalAlign: 'middle', textAlign: 'center', textVerticalAlign: 'middle'}});
    }
    return {type: 'group', children: ch};
  }
};

const tephraSeries = {
  type: 'custom', xAxisIndex: BG, yAxisIndex: BG, z: 5, silent: true, clip: false, data: [[0, 0]],
  renderItem: function (params, api) {
    const L = tephraLayout;
    const ch = [];
    tephraAges.forEach((a, i) => {
      const y = api.coord([0, a])[1];
      ch.push({type: 'line', shape: {x1: L.x0, y1: y, x2: L.gap0, y2: y}, style: {stroke: RED, lineWidth: 2, fill: 'none'}});
      ch.push({type: 'line', shape: {x1: L.gap1, y1: y, x2: L.x1, y2: y}, style: {stroke: RED, lineWidth: 2, fill: 'none'}});
      ch.push({type: 'text', x: L.labelX, y: y + L.dy[i], scaleX: NARROW, style: {text: tephraNames[i], fill: RED, fontSize: 20, fontFamily: FN,
        align: 'center', verticalAlign: 'middle', textAlign: 'center', textVerticalAlign: 'middle'}});
    });
    return {type: 'group', children: ch};
  }
};

const series = [
  zoneSeries,
  lineSeries(0, d18O, '#000', 1.3),
  lineSeries(1, totalCarbonA, '#000', 1.3),
  lineSeries(1, totalCarbonB, '#000', 1.3),
  lineSeries(2, [[0, 0], [RECORD_END, 0]], '#000', 1.6),
  lineSeries(2, betulaConc, '#000', 1.2),
  profileSeries(3, pinus),
  profileSeries(4, betulaPct),
  profileSeries(5, picea),
  profileSeries(6, ulmus),
  profileSeries(7, carpinus),
  profileSeries(8, poaceae),
  profileSeries(9, charcoal),
  profileSeries(10, woodRemains),
  profileSeries(11, coenococcum),
  profileSeries(12, ranunculaceae),
  lineSeries(13, floodStack, BLUE, 1.6),
  lineSeries(14, dustDE3, '#000', 1.6),
  lineSeries(15, varveStack, GRAY, 2),
  tephraSeries,
  zoneLabelSeries
];

// ---- header texts ----
function measure(font, s) { const c = document.createElement('canvas').getContext('2d'); c.font = font; return c.measureText(s).width; }
const TITLE_SCALE = 0.975;
const titleW = TITLE_SCALE * (measure('bold 25px ' + FN, 'Synthesis of all ') + measure('italic bold 25px ' + FN, 'ELSA') + measure('bold 25px ' + FN, '-Stacks'));

function rich(color, size) {
  return {
    t: {fontSize: size, fontFamily: FN, fill: color, verticalAlign: 'bottom', lineHeight: size + 4},
    i: {fontSize: size, fontFamily: FN, fill: color, fontStyle: 'italic', verticalAlign: 'bottom', lineHeight: size + 4},
    b: {fontSize: size, fontFamily: FN, fill: color, fontWeight: 'bold', verticalAlign: 'bottom', lineHeight: size + 4},
    bi: {fontSize: size, fontFamily: FN, fill: color, fontWeight: 'bold', fontStyle: 'italic', verticalAlign: 'bottom', lineHeight: size + 4},
    bs: {fontSize: 13, fontFamily: FN, fill: color, fontWeight: 'bold', verticalAlign: 'bottom', lineHeight: 10},
    sup: {fontSize: 13, fontFamily: FN, fill: color, verticalAlign: 'top', lineHeight: 10}
  };
}
const headers = [
  {x: 111.7, t: '{t|Greenland Ice}'},
  {x: 141.7, t: '{t|δ}{sup|18}{t|O [‰]}'},
  {x: 203.3, t: '{t|Total carbon [%]}'},
  {x: 293.3, t: '{i|Betula}{t| [#/ccm]}'},
  {x: 386.7, t: '{i|Pinus}{t| [%]}'},
  {x: 446.7, t: '{i|Betula}{t| [%]}'},
  {x: 525.5, t: '{i|Picea}{t| [%]}'},
  {x: 612.4, t: '{i|Ulmus}{t| [%]}'},
  {x: 684.6, t: '{i|Carpinus}{t| [%]}'},
  {x: 786.3, t: '{t|Poaceae [%]}'},
  {x: 864, t: '{t|Charcoal [#]}'},
  {x: 915.8, t: '{t|Wood remains [#]}'},
  {x: 988, t: '{t|Coenococcum [#]}'},
  {x: 1065.4, t: '{t|Ranunculaceae [#]}'},
  {x: 1117.7, t: '{bi|ELSA}{b|-Flood-Stack}{bs|2016}', c: BLUE, s: 20},
  {x: 1143.8, t: '{b|[index]}', c: BLUE, s: 20},
  {x: 1234.5, t: '{b|DE3 Dust [index]}', s: 21},
  {x: 1341.6, t: '{bi|ELSA}{b|-Varve-Stack}{bs|2016}', c: GRAY, s: 20},
  {x: 1369.6, t: '{b|[index]}', c: GRAY, s: 20}
];

const graphic = [];
headers.forEach(h => {
  graphic.push({type: 'text', x: h.x, y: 206.7, rotation: Math.PI / 2, scaleX: 0.93, silent: true,
    style: {text: h.t, rich: rich(h.c || '#000', h.s || 21), align: 'left', verticalAlign: 'middle', textAlign: 'left', textVerticalAlign: 'middle'}});
});
graphic.push({type: 'text', x: 14, y: 38.7, scaleX: TITLE_SCALE, silent: true, style: {text: '{b|Synthesis of all }{bi|ELSA}{b|-Stacks}', rich: rich('#000', 25),
  align: 'left', verticalAlign: 'middle', textAlign: 'left', textVerticalAlign: 'middle'}});
graphic.push({type: 'line', silent: true, shape: {x1: 14, y1: 51, x2: 14 + titleW, y2: 51}, style: {stroke: '#000', lineWidth: 2}});
graphic.push({type: 'text', x: 514.4, y: 66.7, scaleX: 0.95, silent: true, style: {text: '{b|ELSA-Vegetation-Stack}{bs|2016}', rich: rich('#000', 22),
  align: 'left', verticalAlign: 'middle', textAlign: 'left', textVerticalAlign: 'middle'}});
graphic.push({type: 'text', x: 1455.4, y: 240, scaleX: 0.93, silent: true, style: {text: '{bi|ELSA}{b|-LEZ}', rich: rich('#000', 21),
  align: 'left', verticalAlign: 'middle', textAlign: 'left', textVerticalAlign: 'middle'}});
graphic.push({type: 'text', x: 33.3, y: 783.3, scaleX: NARROW, silent: true, style: {text: 'Age', fill: '#000', fontSize: 20, fontFamily: FN,
  align: 'center', verticalAlign: 'middle', textAlign: 'center', textVerticalAlign: 'middle'}});
graphic.push({type: 'text', x: 35, y: 811.7, scaleX: NARROW, silent: true, style: {text: '[b2k]', fill: '#000', fontSize: 20, fontFamily: FN,
  align: 'center', verticalAlign: 'middle', textAlign: 'center', textVerticalAlign: 'middle'}});
graphic.push({type: 'text', x: 1084.5, y: 671.7, scaleX: 0.91, silent: true, z: 20, style: {text: '{bi|ELSA}{b|-Tephra-Stack}{bs|2016}', rich: rich(RED, 23),
  align: 'left', verticalAlign: 'middle', textAlign: 'left', textVerticalAlign: 'middle'}});
graphic.push({type: 'text', x: 1186, y: 826.7, scaleX: NARROW, silent: true, style: {text: 'LcT (64 000 b2k)', fill: RED, fontSize: 20, fontWeight: 'bold', fontFamily: FN,
  align: 'center', verticalAlign: 'middle', textAlign: 'center', textVerticalAlign: 'middle'}});
graphic.push({type: 'line', silent: true, shape: {x1: 1036, y1: 826.7, x2: 1109, y2: 826.7}, style: {stroke: RED, lineWidth: 2}});
graphic.push({type: 'line', silent: true, shape: {x1: 1261, y1: 826.7, x2: 1352, y2: 826.7}, style: {stroke: RED, lineWidth: 2}});

const chart = echarts.init(document.getElementById('c'), null, {renderer: 'canvas'});
chart.setOption({
  animation: false,
  backgroundColor: '#fff',
  textStyle: {fontFamily: FN},
  grid: grids, xAxis: xAxes, yAxis: yAxes, series: series, graphic: graphic
});
</script></body></html>
